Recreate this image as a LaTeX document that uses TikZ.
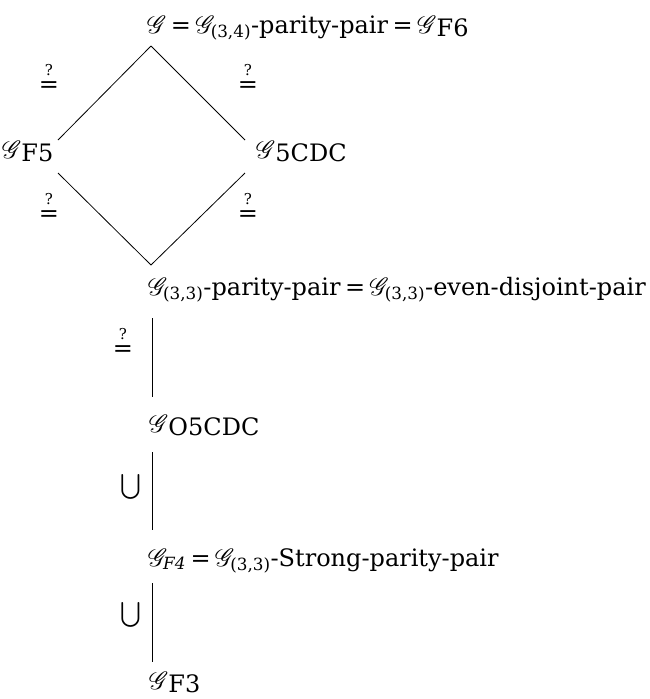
\documentclass[tikz,border=0pt]{standalone}
\usepackage{fontspec}
\usepackage{amsmath}
\usepackage{mathrsfs}
\setmainfont{DejaVu Serif}
\newcommand{\GG}{\ensuremath{\mathscr{G}}}
\newcommand{\Gsub}[1]{\GG\raisebox{-0.16em}{#1}}
\newcommand{\Gsmall}[1]{\ensuremath{\mathscr{G}_{\text{#1}}}}
\newcommand{\myeq}{\kern4.5pt=\kern4.5pt}
\newcommand{\qeq}{\shortstack{{\fontsize{15}{15}\selectfont ?}\\[3pt]{=}}}
\begin{document}
\begin{tikzpicture}[x=1pt,y=-1pt,
  lbl/.style={inner sep=0pt,outer sep=0pt,anchor=base west,font=\fontsize{24}{28}\selectfont},
  rel/.style={inner sep=0pt,outer sep=0pt,anchor=center,font=\fontsize{24}{28}\selectfont},
  edge/.style={line width=0.8pt,black}]
\useasboundingbox (0,0) rectangle (650,699);
% texts
\node[lbl] (top) at (147,33) {\GG\myeq\Gsmall{(3,4)}-parity-pair\myeq\Gsub{F6}};
\node[lbl] (f5) at (2,158) {\Gsub{F5}};
\node[lbl] (c5) at (256,158) {\Gsub{5CDC}};
\node[lbl] (mid) at (148,295) {\Gsmall{(3,3)}-parity-pair\myeq\Gsmall{(3,3)}-even-disjoint-pair};
\node[lbl] (o5) at (149,432) {\Gsub{O5CDC}};
\node[lbl] (f4) at (148,566) {$\mathscr{G}_{\textit{F4}}$\myeq\Gsmall{(3,3)}-Strong-parity-pair};
\node[lbl] (f3) at (149,689) {\Gsub{F3}};
% diamond vertices
\coordinate (tv) at (151,46);
\coordinate (l1) at (58,140);
\coordinate (r1) at (245,140);
\coordinate (l2) at (58,173);
\coordinate (r2) at (245,173);
\coordinate (bv) at (151,265);
\draw[edge] (tv) -- (l1);
\draw[edge] (tv) -- (r1);
\draw[edge] (l2) -- (bv);
\draw[edge] (r2) -- (bv);
% vertical connectors
\coordinate (v1a) at (152,318);
\coordinate (v1b) at (152,397);
\coordinate (v2a) at (152,452);
\coordinate (v2b) at (152,530);
\coordinate (v3a) at (152,583);
\coordinate (v3b) at (152,662);
\draw[edge] (v1a) -- (v1b);
\draw[edge] (v2a) -- (v2b);
\draw[edge] (v3a) -- (v3b);
% relation labels
\node[rel] (q1) at (49,78) {\qeq};
\node[rel] (q2) at (248,78) {\qeq};
\node[rel] (q3) at (49,207) {\qeq};
\node[rel] (q4) at (248,207) {\qeq};
\node[rel] (q5) at (123,342) {\qeq};
\node[rel] (u1) at (131,487) {$\bigcup$};
\node[rel] (u2) at (131,615) {$\bigcup$};
\end{tikzpicture}
\end{document}
